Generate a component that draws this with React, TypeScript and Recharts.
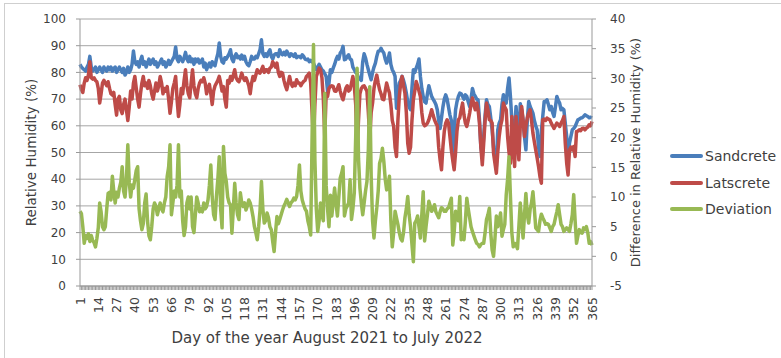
import React from "react";
import { LineChart, Line, XAxis, YAxis, CartesianGrid, Label } from "recharts";

// Day numbers 1..365 (August 2021 to July 2022)
const days: number[] = Array.from({ length: 365 }, (_, i) => i + 1);

// Relative humidity of the sandcrete block (%)
const sandcrete: number[] = [
  83, 82, 81.5, 81, 80.5, 82, 83, 86, 82, 80.5,
  81, 82, 80, 81, 82, 81, 80, 82, 81, 80.5,
  82, 81, 82, 80.5, 81.5, 82, 80, 81, 82, 81,
  80, 81.5, 79, 80, 82, 80, 81, 83, 88, 84,
  83, 84, 82, 84.5, 86, 83, 84, 82, 83.5, 85,
  83, 84, 85, 83, 84, 82, 83, 84, 85, 83,
  84, 82, 83, 84.5, 83, 84, 85, 86, 89.5, 85,
  84, 86, 85, 84, 85.5, 87.5, 85, 84, 86, 84,
  85, 83, 85, 84, 85, 83.5, 84, 85, 82, 83.5,
  81, 82.5, 83.5, 82, 84, 83, 82.5, 85, 87, 91,
  86, 84, 83.5, 85.5, 85, 86, 87, 88.5, 85, 84,
  86, 87, 85.5, 86, 85, 86.5, 85, 86, 84, 83,
  82.5, 84, 86, 85, 85, 86, 85.5, 87, 88.5, 92.2,
  87, 86, 87, 86, 87.5, 88.5, 86, 85, 86.5, 87,
  87, 86, 88.5, 87, 86.6, 87.5, 86.5, 88, 87, 86,
  87, 86.6, 86, 87, 85.5, 86, 86, 85.5, 86.6, 86,
  85, 84.75, 85, 84, 84.5, 84, 83.5, 82, 81, 82,
  83, 82, 81, 80.5, 79.5, 78.5, 73, 76, 81, 80,
  81.6, 83, 84.75, 86, 85, 87.25, 88, 89.75, 84.75, 85,
  86, 86.6, 85, 84.75, 82, 81, 80, 79.5, 78, 77.5,
  77, 84, 87, 85.4, 83, 81, 79, 77.25, 80, 82,
  83.5, 86, 87.9, 88, 89, 88, 87.25, 85, 83.5, 85,
  87.25, 83, 81, 80, 78.5, 66.6, 72, 76, 77, 78.5,
  77, 75, 72.25, 69, 67, 66, 74, 81, 80, 81.6,
  83, 85, 78.5, 74, 71, 69, 68.5, 72, 75, 73,
  71, 70, 69.1, 68, 66, 62, 59, 63, 67, 70,
  71.6, 70, 67, 64, 62, 49.75, 58, 66, 69, 71,
  72.25, 72, 71, 70, 71.6, 71, 69, 67.25, 70, 74,
  72, 71, 70, 69.75, 62.25, 52, 48.5, 56, 64, 69.75,
  68, 67.25, 63, 58.5, 52, 48.5, 44.75, 58.5, 61, 62.25,
  68, 71.6, 70, 68.5, 74, 77.9, 71, 62.25, 48.5, 58,
  67.25, 60, 51, 68.25, 66, 62.25, 56, 51, 62, 69.1,
  67.25, 66, 64.75, 62, 60, 58.5, 52, 48.5, 58, 63.5,
  69.1, 69, 69.75, 68, 66, 67.25, 65, 63.5, 67, 71,
  69.5, 68.5, 66, 66.5, 66, 61, 56, 48.5, 53.5, 56,
  58.5, 59, 59.75, 61, 62.25, 62.5, 62.9, 63, 63.5, 64.1,
  63.8, 63.5, 63, 63.2, 62.9,
];

// Relative humidity of the latscrete block (%)
const latscrete: number[] = [
  75.4, 73.5, 72.5, 76, 78, 77, 79, 84, 78, 77.5,
  78, 77, 76.5, 74, 68.5, 72, 76, 77, 76, 75,
  76.5, 74, 72, 71.5, 72.5, 68, 64, 70, 71, 66,
  64.6, 68, 70, 66, 62, 67, 73, 70, 76, 78.5,
  74, 70, 67, 72, 76, 78.5, 75, 76, 74, 77,
  75, 72, 70, 73, 76, 73, 75, 78.5, 76, 72,
  74, 73, 74.7, 70, 64.7, 69, 74, 76, 78.5, 70,
  63.5, 68, 74, 72, 77, 81, 75, 72, 70.5, 76,
  81, 75, 72, 70.5, 74, 76, 77, 76.5, 78, 76,
  72, 74, 75.5, 72, 68, 73, 75, 76, 77, 78.5,
  76, 73, 74.7, 70, 67, 77, 76, 78.5, 77, 79,
  81, 78, 77, 76.5, 78, 79.75, 78, 77, 78, 76.6,
  75, 72, 76, 78.5, 77, 79, 81, 80, 79.75, 81,
  82.25, 80, 81, 81, 80, 81.6, 82, 84, 83, 82,
  83.5, 80, 78.5, 80, 79.75, 77, 75, 73.5, 76, 78.5,
  76, 74.75, 76, 75, 77.25, 76, 76, 75, 76, 76.6,
  77, 78.5, 79, 79.75, 76, 65, 54, 68, 78.5, 80,
  81.6, 81, 78, 70, 56, 72, 71, 74, 74.75, 75,
  74.75, 73, 72.9, 74, 75.4, 73, 71, 69.75, 72, 74.1,
  75, 73, 73.5, 76, 78.5, 75, 68, 50, 62, 72,
  74, 74.75, 75, 74, 72.9, 65, 55, 65, 68.5, 74,
  77, 79, 76, 73.5, 72, 70, 69.75, 73, 76, 74,
  72.25, 68, 62, 59.75, 52, 48.5, 62, 71, 76, 78.5,
  75, 72.25, 65, 53.5, 49.75, 52, 62, 69.75, 73, 76.6,
  75, 73, 71, 65, 61, 60, 60.4, 61, 62.25, 64,
  66, 64, 62.25, 61, 60, 52, 47.25, 43.5, 52, 58,
  61, 62.25, 61, 56, 51, 47, 43.5, 50, 58, 62.25,
  63, 66, 68.5, 64, 61, 59.75, 62, 64.75, 68, 70.4,
  68, 66, 68.5, 66, 61, 52, 45.4, 53.5, 62, 68.5,
  66, 62.25, 62, 61, 49.75, 46, 42.25, 50, 56, 60,
  62.25, 68.5, 67, 66, 56, 50, 46, 63.5, 52, 44.75,
  63.5, 56, 47.25, 60, 67.25, 62, 56, 60, 63, 64.75,
  66, 62, 57.25, 54, 51, 48, 44.75, 41, 38.5, 62.25,
  62.5, 62, 62.9, 62.5, 62.25, 61, 60, 59, 60, 61,
  60.5, 59.75, 61, 62, 63.5, 53.5, 46, 41.6, 51, 52,
  51, 52.25, 48.5, 57.9, 58, 58.5, 58.2, 59, 59.1, 58.5,
  59.1, 59.5, 60.4, 60, 61.6,
];

// Difference in relative humidity between the two blocks (%), right axis
const deviation: number[] = [
  7.6, 7.2, 5, 2.2, 3.5, 3, 3.8, 2.5, 3.5, 2.7,
  2.3, 1.6, 3, 4.8, 9, 7.5, 5, 4.5, 5, 8,
  10.6, 10.8, 9.5, 13.5, 11, 9, 10.8, 10, 11.5, 12.5,
  15.1, 11, 10, 13, 18.8, 12.5, 10, 12, 11.5, 13,
  14.5, 15.1, 8, 6, 4.5, 5.5, 9, 10.5, 6, 3.5,
  2.8, 5, 8, 9, 8.5, 7, 8, 9, 8, 7.5,
  9, 10, 13.5, 15, 18.8, 7, 9, 11, 10, 12,
  18.8, 10, 11, 6, 3.5, 5, 9, 10, 8, 10,
  5, 4, 7, 10, 9, 7.5, 8, 7.5, 9, 8,
  8.4, 9.5, 12, 15.4, 10, 7, 6.2, 10.1, 13, 16.8,
  8, 4.8, 18.5, 14, 12.6, 10, 9, 8.7, 3.9, 8,
  12.3, 9, 7, 6.2, 10.7, 9, 8.4, 9, 7.8, 8.5,
  9.5, 9, 8, 6.7, 5, 4, 2.8, 5, 7.8, 12.6,
  8, 5.6, 6, 7.3, 6.5, 5, 4.5, 2.5, 0.8, 4,
  6.7, 5.5, 6.2, 7, 7.8, 8.5, 9, 9.6, 9, 8.4,
  9, 9.3, 9.8, 9.5, 10.1, 12, 15.4, 11, 9.5, 8.7,
  8, 7.6, 6, 5, 3.6, 20, 35.7, 16.2, 8, 4.2,
  6, 9, 7, 6, 27.5, 12, 8, 5, 10.3, 6.8,
  9, 11.5, 9, 6.8, 10, 13.2, 14, 15.1, 6.8, 8,
  8.5, 9, 12.9, 6.2, 8, 10.7, 20, 31.7, 16.5, 11.5,
  9, 7, 9, 11, 12.6, 18, 28.6, 13.5, 6, 3.1,
  6, 8.2, 11, 15.7, 16.5, 18.2, 16, 13, 11.2, 12,
  13.5, 6, 1.6, 4, 7.6, 6.5, 5.4, 4, 3, 2.6,
  4, 6.5, 8, 10.1, 7, 5, 2, -0.9, 5.6, 6,
  6.8, 5, 3.1, 7, 10.9, 2.6, 5, 7, 9.3, 8.5,
  7.6, 8, 8.7, 7.5, 7, 6.5, 7.5, 8.2, 8, 7.6,
  7.6, 8, 8.2, 9, 9.8, 1.9, 4, 7.6, 7, 6,
  10.1, 2.8, 4, 2.8, 6, 9.8, 8, 6.5, 5, 4.2,
  3.5, 2.8, 2.2, 2, 1.6, 2, 2.2, 2.2, 4, 6.2,
  7, 8.1, 4, 1.1, 0, 3, 6.8, 5, 6, 7.3,
  3.4, 4.5, 5.4, 10.3, 13, 16.8, 10.1, 4, 1.6, 2.2,
  2, 1.3, 5, 9, 6, 3.1, 7, 10.6, 7, 5.6,
  7.9, 9, 10.9, 8, 4.8, 4.5, 4.2, 6, 7.1, 6.5,
  6, 5.4, 5.5, 5.4, 4.8, 4.2, 5, 5.4, 6.5, 7.5,
  8.7, 7, 5.4, 5, 4.2, 4.5, 4.8, 4.5, 4.2, 5.5,
  7, 10.4, 6, 2.2, 3.5, 4.5, 4, 3.9, 4.8, 4.5,
  5, 4, 2.2, 2.5, 1.9,
];

const leftTicks: number[] = [0, 10, 20, 30, 40, 50, 60, 70, 80, 90, 100];
const rightTicks: number[] = [-5, 0, 5, 10, 15, 20, 25, 30, 35, 40];
const labelStep = 13;

const seriesInfo = [
  { key: "sandcrete", name: "Sandcrete", color: "#4A7EBB", axis: "l" },
  { key: "latscrete", name: "Latscrete", color: "#BE4B48", axis: "l" },
  { key: "deviation", name: "Deviation", color: "#98B954", axis: "r" },
];

const rows = days.map((d, i) => ({
  day: d,
  sandcrete: sandcrete[i],
  latscrete: latscrete[i],
  deviation: deviation[i],
}));

const FONT = "'DejaVu Sans', sans-serif";
const TEXT = "#404040";
const GRID = "#a6a6a6";
const AXIS = "#999999";

const DayTick = (props: any) => {
  const { x, y, payload } = props;
  if ((Number(payload.value) - 1) % labelStep !== 0) return <g />;
  return (
    <text
      x={x}
      y={y}
      transform={`rotate(-90 ${x} ${y})`}
      textAnchor="end"
      dominantBaseline="central"
      fontSize={12.5}
      fontFamily={FONT}
      fill={TEXT}
    >
      {payload.value}
    </text>
  );
};

export default function App() {
  return (
    <div
      style={{
        position: "absolute",
        left: 0,
        top: 0,
        width: 781,
        height: 358,
        overflow: "hidden",
        background: "#fff",
      }}
    >
      <div
        style={{
          position: "absolute",
          left: 4,
          top: 3,
          width: 820,
          height: 400,
          border: "1px solid #cfcfcf",
        }}
      />
      <LineChart
        width={781}
        height={358}
        data={rows}
        margin={{ top: 19, right: 0, bottom: 0, left: 0 }}
        style={{ position: "absolute", left: 0, top: 0 }}
      >
        <CartesianGrid yAxisId="l" vertical={false} stroke={GRID} />
        <XAxis
          dataKey="day"
          type="category"
          interval={0}
          height={72}
          tickSize={4}
          tickMargin={7}
          tickLine={{ stroke: AXIS }}
          axisLine={{ stroke: AXIS }}
          tick={<DayTick />}
        >
          <Label
            content={(p: any) => (
              <text
                x={327}
                y={p.viewBox.y + 52}
                textAnchor="middle"
                dominantBaseline="central"
                fontSize={15}
                fontFamily={FONT}
                fill={TEXT}
              >
                Day of the year August 2021 to July 2022
              </text>
            )}
          />
        </XAxis>
        <YAxis
          yAxisId="l"
          domain={[0, 100]}
          ticks={leftTicks}
          interval={0}
          width={80}
          tickSize={4}
          tickMargin={10}
          tickLine={{ stroke: AXIS }}
          axisLine={{ stroke: AXIS }}
          tick={{ fontSize: 12, fontFamily: FONT, fill: TEXT }}
        >
          <Label
            content={(p: any) => {
              const cx = p.viewBox.x + 31;
              const cy = p.viewBox.y + p.viewBox.height / 2;
              return (
                <text
                  x={cx}
                  y={cy}
                  transform={`rotate(-90 ${cx} ${cy})`}
                  textAnchor="middle"
                  dominantBaseline="central"
                  fontSize={13.5}
                  fontFamily={FONT}
                  fill={TEXT}
                >
                  Relative Humidity (%)
                </text>
              );
            }}
          />
        </YAxis>
        <YAxis
          yAxisId="r"
          orientation="right"
          domain={[-5, 40]}
          ticks={rightTicks}
          interval={0}
          width={189}
          tickSize={4}
          tickMargin={14}
          tickLine={{ stroke: AXIS }}
          axisLine={{ stroke: AXIS }}
          tick={{ fontSize: 12, fontFamily: FONT, fill: TEXT }}
        >
          <Label
            content={(p: any) => {
              const cx = p.viewBox.x + 43;
              const cy = p.viewBox.y + p.viewBox.height / 2;
              return (
                <text
                  x={cx}
                  y={cy}
                  transform={`rotate(-90 ${cx} ${cy})`}
                  textAnchor="middle"
                  dominantBaseline="central"
                  fontSize={13}
                  fontFamily={FONT}
                  fill={TEXT}
                >
                  Difference in Relative Humidity (%)
                </text>
              );
            }}
          />
        </YAxis>
        {seriesInfo.map((s) => (
          <Line
            key={s.key}
            yAxisId={s.axis}
            dataKey={s.key}
            name={s.name}
            type="linear"
            stroke={s.color}
            strokeWidth={3.5}
            strokeLinejoin="round"
            dot={false}
            activeDot={false}
            isAnimationActive={false}
          />
        ))}
      </LineChart>
      <div
        style={{
          position: "absolute",
          left: 670,
          top: 143,
          fontFamily: FONT,
          fontSize: 14,
          color: TEXT,
        }}
      >
        {seriesInfo.map((s) => (
          <div
            key={s.key}
            style={{ display: "flex", alignItems: "center", height: 26.5 }}
          >
            <span
              style={{
                display: "inline-block",
                width: 33,
                height: 4,
                background: s.color,
                borderRadius: 2,
                marginRight: 2,
              }}
            />
            <span>{s.name}</span>
          </div>
        ))}
      </div>
    </div>
  );
}
